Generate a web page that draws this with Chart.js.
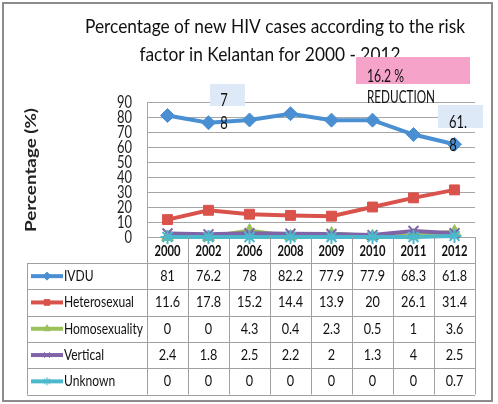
<!DOCTYPE html>
<html>
<head>
<meta charset="utf-8">
<script src="https://cdn.jsdelivr.net/npm/chart.js@4.4.1/dist/chart.umd.min.js"></script>
<style>
  html, body { margin: 0; padding: 0; background: #fff; }
  canvas { display: block; }
</style>
</head>
<body>
<canvas id="hivChart" width="498" height="404"></canvas>
<script>
// data
const years = ['2000', '2002', '2006', '2008', '2009', '2010', '2011', '2012'];
const ivdu = [81, 76.2, 78, 82.2, 77.9, 77.9, 68.3, 61.8];
const heterosexual = [11.6, 17.8, 15.2, 14.4, 13.9, 20, 26.1, 31.4];
const homosexuality = [0, 0, 4.3, 0.4, 2.3, 0.5, 1, 3.6];
const vertical = [2.4, 1.8, 2.5, 2.2, 2, 1.3, 4, 2.5];
const unknown = [0, 0, 0, 0, 0, 0, 0, 0.7];
const yTicks = [0, 10, 20, 30, 40, 50, 60, 70, 80, 90];

const FONT = 'Lato, "Open Sans", sans-serif';

const series = [
    { label: 'IVDU', data: ivdu, color: '#4a8fd2', style: 'rectRot' },
    { label: 'Heterosexual', data: heterosexual, color: '#d9534c', style: 'rect' },
    { label: 'Homosexuality', data: homosexuality, color: '#9bc25a', style: 'triangle' },
    { label: 'Vertical', data: vertical, color: '#8064a8', style: 'crossRot' },
    { label: 'Unknown', data: unknown, color: '#4bb8cc', style: 'star' }
];

// draws text squeezed sideways (the original uses a narrow font)
function texto(ctx, txt, x, y, font, sx, align, color) {
    ctx.save();
    ctx.font = font;
    ctx.fillStyle = color || '#111';
    ctx.textAlign = align || 'center';
    ctx.textBaseline = 'middle';
    ctx.translate(x, y);
    ctx.scale(sx, 1);
    ctx.fillText(txt, 0, 0);
    ctx.restore();
}

// factor so that txt gets width w
function ajuste(ctx, txt, font, w) {
    ctx.save();
    ctx.font = font;
    const m = ctx.measureText(txt).width;
    ctx.restore();
    return w / m;
}

// title, table, frame and the loose labels
const extras = {
    id: 'extras',
    afterDraw(chart) {
        const ctx = chart.ctx;
        const area = chart.chartArea;
        const xs = chart.scales.x;
        const ys = chart.scales.y;

        // outer frame
        ctx.save();
        ctx.strokeStyle = '#8c8c8c';
        ctx.lineWidth = 2;
        ctx.strokeRect(3, 3, 489, 398);
        ctx.restore();

        // title
        const fTitle = '20px ' + FONT;
        const t1 = 'Percentage of new HIV cases according to the risk';
        const t2 = 'factor in Kelantan for 2000 - 2012';
        const sT = ajuste(ctx, t1, fTitle, 380);
        texto(ctx, t1, 275, 27, fTitle, sT);
        texto(ctx, t2, 270, 55, fTitle, sT);

        // y axis title
        const fYt = 'bold 16px ' + FONT;
        ctx.save();
        ctx.translate(31, 170);
        ctx.rotate(-Math.PI / 2);
        texto(ctx, 'Percentage (%)', 0, 0, fYt, ajuste(ctx, 'Percentage (%)', fYt, 124), 'center', '#222');
        ctx.restore();

        // y tick labels
        const fTick = '18px ' + FONT;
        const sTick = ajuste(ctx, '90', fTick, 15);
        yTicks.forEach(v => {
            texto(ctx, String(v), 132, ys.getPixelForValue(v), fTick, sTick, 'right', '#222');
        });

        // data table
        const left = 27, colLeft = area.left, right = area.right;
        const top = area.bottom, headH = 26, rowH = 26.3;
        const colW = (right - colLeft) / years.length;
        const bottom = top + headH + rowH * series.length;

        ctx.save();
        ctx.strokeStyle = '#a0a0a0';
        ctx.lineWidth = 1;
        ctx.beginPath();
        for (let i = 0; i <= series.length; i++) {
            const y = Math.round(top + headH + rowH * i) + 0.5;
            ctx.moveTo(left, y);
            ctx.lineTo(right, y);
        }
        ctx.moveTo(left + 0.5, top + headH);
        ctx.lineTo(left + 0.5, bottom);
        for (let j = 0; j <= years.length; j++) {
            const x = Math.round(colLeft + colW * j) + 0.5;
            ctx.moveTo(x, top);
            ctx.lineTo(x, bottom);
        }
        ctx.stroke();
        ctx.restore();

        const fYear = 'bold 15px ' + FONT;
        const sYear = ajuste(ctx, '2000', fYear, 26);
        years.forEach((yr, j) => {
            texto(ctx, yr, xs.getPixelForValue(j), top + headH / 2 + 1, fYear, sYear);
        });

        const fCell = '15px ' + FONT;
        const sName = ajuste(ctx, 'Homosexuality', fCell, 79);
        const sVal = ajuste(ctx, '76.2', fCell, 25);
        series.forEach((s, i) => {
            const cy = top + headH + rowH * i + rowH / 2;
            // legend key
            ctx.save();
            ctx.strokeStyle = s.color;
            ctx.fillStyle = s.color;
            ctx.lineWidth = 4;
            ctx.beginPath();
            ctx.moveTo(31, cy);
            ctx.lineTo(63, cy);
            ctx.stroke();
            ctx.lineWidth = 1;
            Chart.helpers.drawPoint(ctx, { pointStyle: s.style, radius: 4, borderWidth: 1 }, 47, cy);
            ctx.restore();
            texto(ctx, s.label, 64, cy, fCell, sName, 'left');
            s.data.forEach((v, j) => {
                texto(ctx, String(v), xs.getPixelForValue(j), cy, fCell, sVal);
            });
        });

        // loose labels
        ctx.save();
        ctx.fillStyle = '#dde9f6';
        ctx.fillRect(210, 84, 35, 22);
        ctx.fillRect(438, 105, 45, 23);
        ctx.fillStyle = '#f6a3c9';
        ctx.fillRect(356, 57, 114, 27);
        ctx.restore();
        const fLab = '18px ' + FONT;
        texto(ctx, '7', 224, 100, fLab, sTick);
        texto(ctx, '8', 224, 123, fLab, sTick);
        texto(ctx, '61.', 458, 122, fLab, sTick);
        texto(ctx, '8', 453, 145, fLab, sTick);
        const fRed = '17px ' + FONT;
        texto(ctx, '16.2 %', 367, 77, fRed, ajuste(ctx, '16.2 %', fRed, 37), 'left');
        texto(ctx, 'REDUCTION', 367, 98, fRed, ajuste(ctx, 'REDUCTION', fRed, 68), 'left');
    }
};

new Chart(document.getElementById('hivChart'), {
    type: 'line',
    data: {
        labels: years,
        datasets: series.map((s, i) => ({
            label: s.label,
            data: s.data,
            borderColor: s.color,
            backgroundColor: s.color,
            borderWidth: 4,
            pointStyle: s.style,
            pointRadius: 7,
            pointBorderWidth: s.style === 'crossRot' || s.style === 'star' ? 2 : 1,
            pointBackgroundColor: s.color,
            pointBorderColor: s.color,
            tension: 0,
            clip: false,
            order: series.length - i
        }))
    },
    options: {
        responsive: false,
        animation: false,
        devicePixelRatio: 1,
        layout: { padding: { top: 102, right: 23, bottom: 167, left: 0 } },
        plugins: {
            legend: { display: false },
            tooltip: { enabled: false }
        },
        scales: {
            x: { display: false, offset: true },
            y: {
                min: 0,
                max: 90,
                afterFit: (axis) => { axis.width = 147; },
                afterBuildTicks: (axis) => { axis.ticks = yTicks.map(v => ({ value: v })); },
                ticks: { display: false },
                grid: { color: '#a6a6a6', drawTicks: false },
                border: { color: '#a6a6a6' }
            }
        }
    },
    plugins: [extras]
});
</script>
</body>
</html>
